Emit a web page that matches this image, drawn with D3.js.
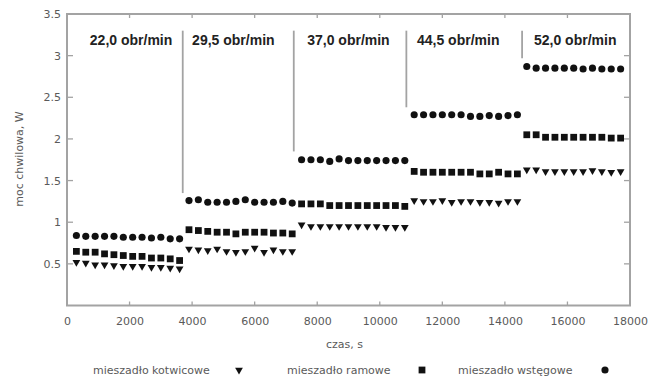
<!DOCTYPE html>
<html><head><meta charset="utf-8">
<script src="https://cdn.jsdelivr.net/npm/d3@7"></script>
<style>body{margin:0;background:#fff}svg{display:block}</style>
</head><body><svg id="c" width="650" height="382"></svg>
<script>
// ---- data ----
const timeSeg1 = [300,600,900,1200,1500,1800,2100,2400,2700,3000,3300,3600];
const timeSeg2 = [3900,4200,4500,4800,5100,5400,5700,6000,6300,6600,6900,7200];
const timeSeg3 = [7500,7800,8100,8400,8700,9000,9300,9600,9900,10200,10500,10800];
const timeSeg4 = [11100,11400,11700,12000,12300,12600,12900,13200,13500,13800,14100,14400];
const timeSeg5 = [14700,15000,15300,15600,15900,16200,16500,16800,17100,17400,17700];

const kotwicowe = [
  0.52,0.51,0.49,0.49,0.48,0.47,0.47,0.47,0.46,0.46,0.45,0.44,
  0.68,0.67,0.66,0.68,0.65,0.64,0.65,0.69,0.64,0.67,0.65,0.65,
  0.97,0.95,0.95,0.95,0.95,0.95,0.95,0.95,0.95,0.94,0.94,0.94,
  1.26,1.25,1.25,1.26,1.24,1.25,1.25,1.24,1.24,1.23,1.25,1.25,
  1.63,1.63,1.61,1.61,1.61,1.61,1.61,1.62,1.61,1.60,1.61];
const ramowe = [
  0.65,0.64,0.64,0.62,0.61,0.60,0.59,0.59,0.57,0.57,0.56,0.54,
  0.91,0.90,0.89,0.88,0.88,0.86,0.88,0.88,0.88,0.87,0.87,0.86,
  1.22,1.22,1.22,1.20,1.20,1.20,1.20,1.20,1.20,1.20,1.20,1.19,
  1.61,1.60,1.60,1.60,1.60,1.60,1.60,1.58,1.58,1.60,1.58,1.58,
  2.05,2.05,2.02,2.02,2.02,2.02,2.02,2.02,2.02,2.01,2.01];
const wstegowe = [
  0.84,0.83,0.83,0.83,0.83,0.82,0.82,0.82,0.81,0.82,0.80,0.80,
  1.26,1.27,1.24,1.24,1.24,1.25,1.27,1.24,1.24,1.24,1.25,1.23,
  1.75,1.75,1.75,1.73,1.76,1.74,1.74,1.74,1.74,1.74,1.74,1.74,
  2.29,2.29,2.29,2.29,2.29,2.29,2.27,2.27,2.28,2.27,2.28,2.29,
  2.87,2.85,2.85,2.85,2.85,2.85,2.84,2.85,2.84,2.84,2.84];

const seriesNames = ["mieszadło kotwicowe","mieszadło ramowe","mieszadło wstęgowe"];
const speedLabels = ["22,0 obr/min","29,5 obr/min","37,0 obr/min","44,5 obr/min","52,0 obr/min"];
const speedLabelTime = [730,4000,7680,11190,14930];
const separatorTime = [3700,7250,10850,14550];
const separatorTop = [3.3,3.3,3.3,3.3];
const separatorBottom = [1.35,1.85,2.38,2.97];
const xTicks = [0,2000,4000,6000,8000,10000,12000,14000,16000,18000];
const yTicks = [0.5,1,1.5,2,2.5,3,3.5];
const xTitle = "czas, s";
const yTitle = "moc chwilowa, W";

// ---- chart ----
const time = [].concat(timeSeg1,timeSeg2,timeSeg3,timeSeg4,timeSeg5);
const svg = d3.select("#c");
const L=67, R=630, T=14, B=305.5;
const x = d3.scaleLinear().domain([0,18000]).range([L,R]);
const y = d3.scaleLinear().domain([0,3.5]).range([B,T]);
const grey = "#a3a3a3", txt = "#5a5a5a";
const font = "DejaVu Sans, Verdana, sans-serif";

// axes
const ax = svg.append("g");
ax.append("g").attr("transform",`translate(0,${B})`)
  .call(d3.axisBottom(x).tickValues(xTicks).tickSize(0).tickPadding(12).tickFormat(d3.format("d")));
ax.append("g").attr("transform",`translate(${L},0)`)
  .call(d3.axisLeft(y).tickValues(yTicks).tickSize(0).tickPadding(6).tickFormat(d=>String(d)));
ax.selectAll(".domain").remove();
ax.selectAll("text").attr("font-family",font).attr("font-size",11).attr("fill",txt);

// inner ticks
const tk = svg.append("g").attr("stroke",grey).attr("stroke-width",1.3);
const innerX = xTicks.filter(d=>d>0 && d<18000);
const innerY = yTicks.filter(d=>d<3.5);
tk.selectAll(".xb").data(innerX).join("line").attr("x1",d=>x(d)).attr("x2",d=>x(d)).attr("y1",B).attr("y2",B-4);
tk.selectAll(".xt").data(innerX).join("line").attr("x1",d=>x(d)).attr("x2",d=>x(d)).attr("y1",T).attr("y2",T+4);
tk.selectAll(".yl").data(innerY).join("line").attr("y1",d=>y(d)).attr("y2",d=>y(d)).attr("x1",L).attr("x2",L+6);
tk.selectAll(".yr").data(innerY).join("line").attr("y1",d=>y(d)).attr("y2",d=>y(d)).attr("x1",R).attr("x2",R-6);

// frame
svg.append("rect").attr("x",L).attr("y",T).attr("width",R-L).attr("height",B-T)
  .attr("fill","none").attr("stroke",grey).attr("stroke-width",2);

// separators
svg.append("g").selectAll("line").data(separatorTime).join("line")
  .attr("x1",d=>x(d)).attr("x2",d=>x(d))
  .attr("y1",(d,i)=>y(separatorTop[i])).attr("y2",(d,i)=>y(separatorBottom[i]))
  .attr("stroke",grey).attr("stroke-width",1.8);

// speed labels
svg.append("g").selectAll("text").data(speedLabels).join("text")
  .attr("x",(d,i)=>x(speedLabelTime[i])).attr("y",y(3.19))
  .attr("dominant-baseline","central")
  .attr("font-family","Liberation Sans, Arial, sans-serif").attr("font-weight","bold")
  .attr("font-size",14).attr("fill","#222").text(d=>d);

// markers
const mk = "#111";
const tri = d3.symbol().type(d3.symbolTriangle).size(26)();
const sq = d3.symbol().type(d3.symbolSquare).size(46)();
const ci = d3.symbol().type(d3.symbolCircle).size(40)();
const sets = [
  {vals:kotwicowe, path:tri, rot:180},
  {vals:ramowe, path:sq, rot:0},
  {vals:wstegowe, path:ci, rot:0}
];
sets.forEach(s=>{
  svg.append("g").selectAll("path").data(s.vals).join("path")
    .attr("d",s.path).attr("fill",mk)
    .attr("transform",(d,i)=>`translate(${x(time[i])},${y(d)}) rotate(${s.rot})`);
});

// titles
svg.append("text").attr("x",(L+R)/2-4).attr("y",348).attr("text-anchor","middle")
  .attr("font-family",font).attr("font-size",11).attr("fill",txt).text(xTitle);
svg.append("text").attr("transform",`translate(19,159) rotate(-90)`).attr("text-anchor","middle")
  .attr("dominant-baseline","central")
  .attr("font-family",font).attr("font-size",11).attr("fill",txt).text(yTitle);

// legend
const legTextX = [93,287,458], legMarkX = [239,422,605];
const legPaths = [tri, sq, ci], legRot=[180,0,0];
const lg = svg.append("g");
seriesNames.forEach((n,i)=>{
  lg.append("text").attr("x",legTextX[i]).attr("y",370).attr("dominant-baseline","central")
    .attr("font-family",font).attr("font-size",11).attr("fill",txt).text(n);
  lg.append("path").attr("d",legPaths[i]).attr("fill",mk)
    .attr("transform",`translate(${legMarkX[i]},370) rotate(${legRot[i]})`);
});
</script></body></html>
